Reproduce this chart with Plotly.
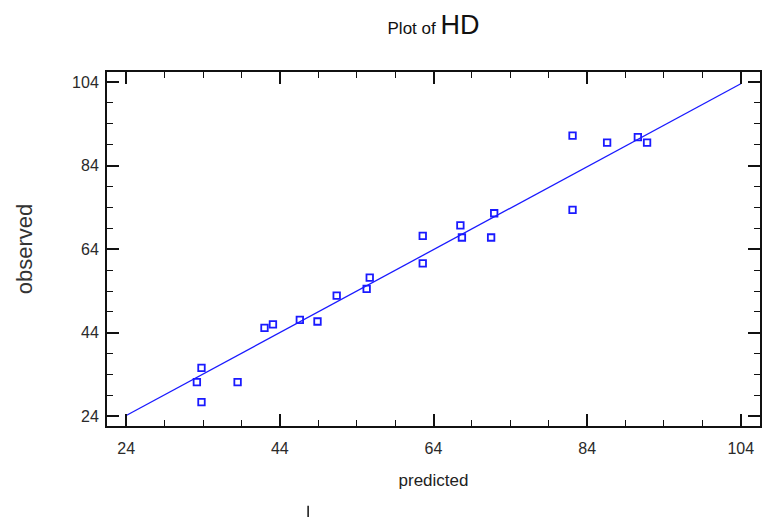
import plotly.graph_objects as go

# Observed vs. predicted values of HD
predicted = [33.2, 33.8, 33.8, 38.5, 42.0, 43.1, 46.6, 48.9, 51.4, 55.3, 55.7,
             62.6, 62.6, 67.5, 67.7, 71.5, 71.9, 82.1, 82.1, 86.6, 90.6, 91.8]
observed = [32.2, 35.6, 27.4, 32.2, 45.2, 46.0, 47.1, 46.7, 52.9, 54.5, 57.2,
            67.2, 60.6, 69.7, 66.8, 66.8, 72.6, 91.2, 73.4, 89.5, 90.8, 89.5]

# Fitted line end points
fit_x = [24, 104]
fit_y = [24.2, 103.6]

tick_vals = [24, 44, 64, 84, 104]
blue = "#1a1aff"
font_family = "Liberation Sans, Arial, sans-serif"
narrow_family = "Liberation Sans Narrow, Liberation Sans, Arial, sans-serif"
axis_font = dict(family=font_family, size=16, color="#2a2a2a")

fig = go.Figure()
fig.add_trace(go.Scatter(
    x=fit_x, y=fit_y, mode="lines",
    line=dict(color=blue, width=1.3), hoverinfo="skip", showlegend=False))
fig.add_trace(go.Scatter(
    x=predicted, y=observed, mode="markers",
    marker=dict(symbol="square-open", size=6.5, color=blue, line=dict(width=1.8, color=blue)),
    showlegend=False))

axis_common = dict(
    tickvals=tick_vals, ticks="inside", ticklen=12, tickwidth=1.5, tickcolor="#111111",
    showline=True, linewidth=2, linecolor="#111111", mirror="ticks",
    showgrid=False, zeroline=False, tickfont=axis_font,
    minor=dict(dtick=5, tick0=24, ticks="inside", ticklen=6, tickwidth=1.2, tickcolor="#111111"),
)

fig.update_xaxes(range=[21.5, 106.5], ticklabelstandoff=7,
                 title=dict(text="predicted", standoff=18,
                            font=dict(family=font_family, size=17, color="#222222")),
                 **axis_common)
fig.update_yaxes(range=[21.7, 106.4], ticklabelstandoff=3,
                 title=dict(text="observed", standoff=33,
                            font=dict(family=font_family, size=22, color="#333333")),
                 **axis_common)

fig.add_shape(type="line", xref="paper", yref="paper",
              x0=0.308, x1=0.308, y0=-0.225, y1=-0.26,
              line=dict(color="#111111", width=1.5))

fig.update_layout(
    width=764, height=517,
    margin=dict(l=107, r=2, t=72, b=91),
    paper_bgcolor="white", plot_bgcolor="white",
    title=dict(
        text="<span style='font-size:17px'>Plot of </span><span style='font-size:27px'>HD</span>",
        x=0.5, xref="paper", xanchor="center", y=0.945, yanchor="middle",
        font=dict(family=narrow_family, color="#111111")),
)

fig.write_html("out.html")
